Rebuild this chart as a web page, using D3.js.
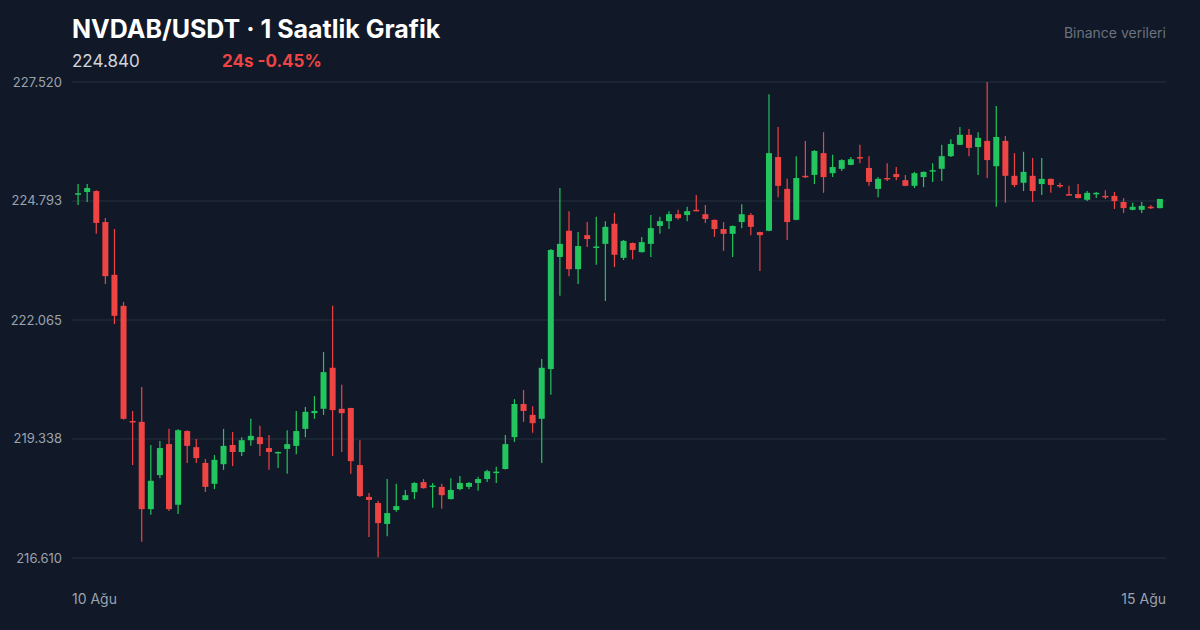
<!DOCTYPE html>
<html><head><meta charset="utf-8">
<script src="https://cdn.jsdelivr.net/npm/d3@7"></script>
<style>html,body{margin:0;padding:0;background:#111827;}svg{display:block;font-family:Inter,"Noto Sans",sans-serif;}</style>
</head><body><svg id="c" width="1200" height="630"></svg>
<script>
const opens=[224.95,225.00,225.02,224.31,223.10,222.39,219.75,219.73,217.73,218.51,219.22,217.83,219.52,219.15,218.79,218.31,218.76,219.20,219.04,219.31,219.38,219.13,219.02,219.11,219.18,219.57,219.93,220.03,220.97,220.03,220.05,218.74,218.01,217.87,217.39,217.71,217.94,218.12,218.35,218.26,218.24,217.96,218.19,218.24,218.33,218.42,218.58,218.65,219.38,220.14,219.89,219.80,220.94,223.51,224.11,223.23,224.01,223.74,223.81,224.27,223.49,223.83,223.62,223.81,224.22,224.33,224.49,224.47,224.59,224.49,224.36,224.15,224.04,224.31,224.47,224.08,224.11,225.80,225.07,224.36,225.37,225.39,225.89,225.43,225.53,225.62,225.80,225.55,225.07,225.32,225.41,225.27,225.14,225.34,225.49,225.53,225.82,226.08,226.31,226.03,226.17,225.59,226.17,225.37,225.21,225.37,225.18,225.30,225.16,224.95,224.95,224.82,224.97,224.91,224.91,224.77,224.59,224.59,224.66,224.63];
const highs=[225.18,225.18,225.04,224.40,224.15,222.48,219.98,220.53,219.20,219.29,219.57,219.56,219.54,219.34,218.88,218.97,219.57,219.50,219.38,219.80,219.64,219.43,219.05,219.54,219.98,220.07,220.32,221.33,222.39,220.58,220.05,219.31,218.10,217.92,218.42,218.31,218.17,218.35,218.42,218.33,218.31,218.44,218.49,218.35,218.47,218.63,218.70,219.43,220.25,220.46,220.09,221.17,223.69,225.09,224.56,224.08,224.31,224.43,224.33,224.52,223.90,223.84,223.97,224.47,224.43,224.56,224.59,224.66,224.93,224.70,224.37,224.31,224.23,224.72,224.52,224.09,227.24,226.49,225.30,225.82,226.17,225.96,226.37,225.85,225.75,225.80,226.08,225.82,225.34,225.66,225.57,225.39,225.46,225.47,225.66,226.08,226.21,226.49,226.44,226.37,227.52,226.97,226.28,225.89,225.92,225.78,225.78,225.31,225.21,225.14,225.18,225.02,225.00,225.04,225.00,224.86,224.75,224.77,224.70,224.84];
const lows=[224.70,224.77,224.04,222.89,221.97,219.78,218.74,216.98,217.60,218.44,217.69,217.62,218.79,218.79,218.12,218.19,218.63,218.72,218.95,219.18,218.95,218.63,218.67,218.54,218.99,219.38,219.80,219.89,218.95,219.04,218.54,218.01,217.09,216.63,217.11,217.67,217.93,217.96,218.20,217.76,217.74,217.95,218.16,218.19,218.15,218.35,218.33,218.64,219.27,219.73,219.48,218.79,220.35,222.62,223.07,222.89,223.74,223.33,222.50,223.28,223.44,223.46,223.61,223.51,224.04,224.15,224.36,224.33,224.56,224.29,223.97,223.65,223.51,224.17,224.01,223.19,224.10,224.88,223.90,224.35,225.32,225.18,224.98,225.34,225.48,225.61,225.66,225.14,224.88,225.25,225.27,225.13,225.09,225.11,225.23,225.25,225.80,226.07,225.82,225.39,225.32,224.66,224.75,225.11,225.02,224.77,224.93,224.98,225.09,224.93,224.85,224.79,224.86,224.84,224.61,224.52,224.58,224.52,224.61,224.62];
const closes=[224.97,225.09,224.29,223.07,222.16,219.80,219.74,217.73,218.38,219.13,217.73,219.54,219.18,218.90,218.24,218.86,219.18,219.04,219.31,219.41,219.22,219.04,219.04,219.22,219.52,219.96,219.98,220.87,220.00,219.93,218.83,218.03,217.94,217.41,217.64,217.80,218.05,218.33,218.21,218.27,218.05,218.17,218.33,218.33,218.42,218.60,218.59,219.22,220.14,219.98,219.70,220.97,223.67,223.81,223.23,223.76,223.92,223.75,224.20,223.56,223.88,223.67,223.85,224.17,224.33,224.49,224.40,224.56,224.58,224.38,224.15,224.04,224.22,224.49,224.20,224.01,225.89,225.14,224.31,225.32,225.36,225.94,225.34,225.57,225.73,225.75,225.79,225.23,225.30,225.31,225.34,225.14,225.43,225.46,225.50,225.82,226.10,226.31,226.01,226.24,225.73,226.26,225.37,225.16,225.46,225.02,225.30,225.16,225.15,224.94,224.86,224.98,224.98,224.90,224.79,224.63,224.66,224.68,224.65,224.84];
const yTicks=[216.610,219.338,222.065,224.793,227.520];
const xLabels=["10 Ağu","15 Ağu"];
const title="NVDAB/USDT · 1 Saatlik Grafik", lastPrice="224.840", change="24s -0.45%", source="Binance verileri";

const svg=d3.select("#c");
svg.append("rect").attr("width",1200).attr("height",630).attr("fill","#111827");
const idx=d3.range(opens.length);
const x=d3.scaleBand().domain(idx).range([72,1166]).padding(0.34);
const y=d3.scaleLinear().domain([216.61,227.52]).range([558,82]);
svg.append("g").selectAll("line").data(yTicks).join("line")
 .attr("x1",72).attr("x2",1166).attr("y1",d=>y(d)).attr("y2",d=>y(d))
 .attr("stroke","#263041").attr("stroke-width",1.2);
svg.append("g").selectAll("text").data(yTicks).join("text")
 .attr("x",62).attr("y",d=>y(d)+4.5).attr("text-anchor","end")
 .attr("fill","#9ca3af").attr("font-size",13).text(d=>d.toFixed(3));
const col=i=>closes[i]>=opens[i]?"#22c55e":"#ef4444";
const g=svg.append("g");
g.selectAll("line").data(idx).join("line")
 .attr("x1",i=>x(i)+x.bandwidth()/2).attr("x2",i=>x(i)+x.bandwidth()/2)
 .attr("y1",i=>y(highs[i])).attr("y2",i=>y(lows[i])).attr("stroke",col).attr("stroke-width",1.2);
g.selectAll("rect").data(idx).join("rect")
 .attr("x",i=>x(i)).attr("width",x.bandwidth())
 .attr("y",i=>y(Math.max(opens[i],closes[i])))
 .attr("height",i=>Math.max(1.5,Math.abs(y(opens[i])-y(closes[i]))))
 .attr("fill",col);
svg.append("text").attr("x",72).attr("y",604).attr("fill","#9ca3af").attr("font-size",14).text(xLabels[0]);
svg.append("text").attr("x",1166).attr("y",604).attr("text-anchor","end").attr("fill","#9ca3af").attr("font-size",14).text(xLabels[1]);
svg.append("text").attr("x",72).attr("y",38).attr("fill","#ffffff").attr("font-size",25).attr("font-weight","bold").text(title);
svg.append("text").attr("x",72).attr("y",67).attr("fill","#d1d5db").attr("font-size",17).text(lastPrice);
svg.append("text").attr("x",222).attr("y",67).attr("fill","#ef4444").attr("font-size",17).attr("font-weight","bold").text(change);
svg.append("text").attr("x",1166).attr("y",38).attr("text-anchor","end").attr("fill","#6b7280").attr("font-size",14).text(source);
</script></body></html>
